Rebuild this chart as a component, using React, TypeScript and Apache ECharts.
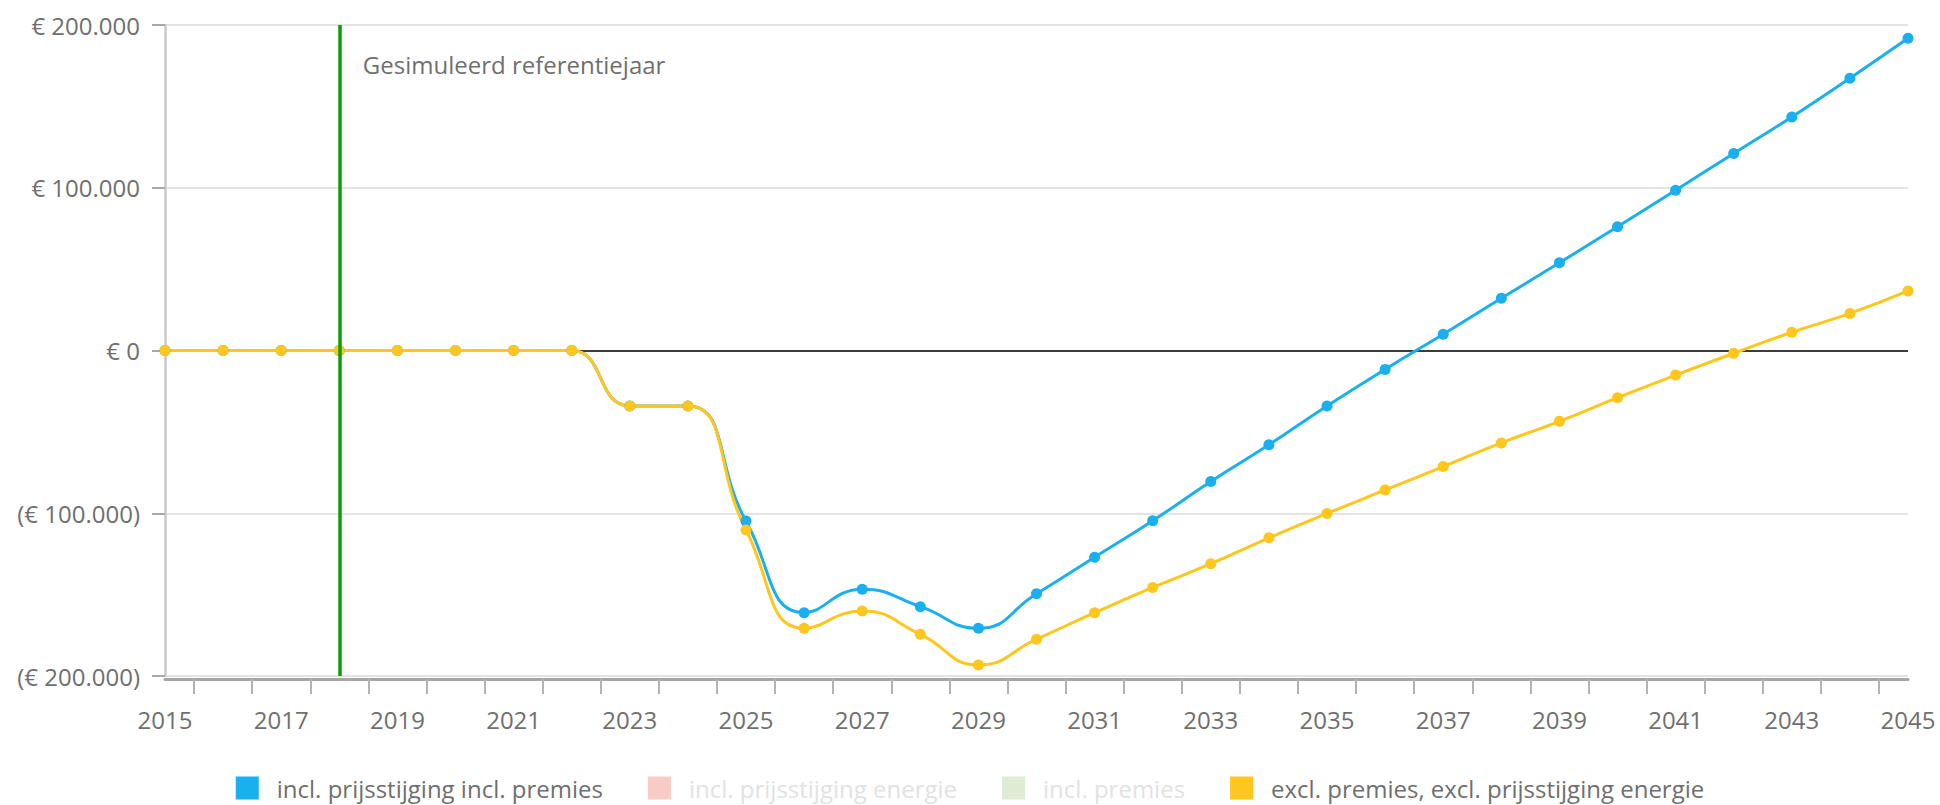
import React, { useEffect, useRef } from "react";
import * as echarts from "echarts";

const years: number[] = [
  2015, 2016, 2017, 2018, 2019, 2020, 2021, 2022, 2023, 2024, 2025, 2026, 2027, 2028, 2029, 2030,
  2031, 2032, 2033, 2034, 2035, 2036, 2037, 2038, 2039, 2040, 2041, 2042, 2043, 2044, 2045,
];

const inclPrijsInclPremies: number[] = [
  0, 0, 0, 0, 0, 0, 0, 0, -34100, -34100, -104800, -161100, -146700, -157400, -170700, -149500,
  -127000, -104600, -80500, -57900, -34100, -11600, 10000, 32100, 53900, 76100, 98500, 121100,
  143500, 167300, 191800,
];

const exclPremiesExclPrijs: number[] = [
  0, 0, 0, 0, 0, 0, 0, 0, -34100, -34100, -110300, -170700, -160100, -174400, -193200, -177400,
  -161100, -145600, -131000, -115100, -100100, -85700, -71300, -56800, -43500, -29000, -15100,
  -1700, 11200, 22800, 36600,
];

const inclPrijsEnergie: number[] = [];
const inclPremies: number[] = [];

const seriesNames: string[] = [
  "incl. prijsstijging incl. premies",
  "incl. prijsstijging energie",
  "incl. premies",
  "excl. premies, excl. prijsstijging energie",
];

const xLabelYears: number[] = [
  2015, 2017, 2019, 2021, 2023, 2025, 2027, 2029, 2031, 2033, 2035, 2037, 2039, 2041, 2043, 2045,
];
const xTickYears: number[] = [
  2015.5, 2016.5, 2017.5, 2018.5, 2019.5, 2020.5, 2021.5, 2022.5, 2023.5, 2024.5, 2025.5, 2026.5,
  2027.5, 2028.5, 2029.5, 2030.5, 2031.5, 2032.5, 2033.5, 2034.5, 2035.5, 2036.5, 2037.5, 2038.5,
  2039.5, 2040.5, 2041.5, 2042.5, 2043.5, 2044.5,
];
const yTicks: number[] = [-200000, -100000, 0, 100000, 200000];

const referenceYear = 2018;
const referenceLabel = "Gesimuleerd referentiejaar";

const FONT = "'Open Sans', 'Noto Sans', sans-serif";
const TEXT = "#6f6f6f";

function fmtEuro(v: number): string {
  if (v === 0) return "€ 0";
  const s = Math.abs(v)
    .toFixed(0)
    .replace(/\B(?=(\d{3})+(?!\d))/g, ".");
  return v < 0 ? "(€ " + s + ")" : "€ " + s;
}

function pairs(vals: number[]): number[][] {
  return vals.map((v, i) => [years[i], v]);
}

export default function App() {
  const ref = useRef<HTMLDivElement>(null);

  useEffect(() => {
    if (!ref.current) return;
    const chart = echarts.init(ref.current, null, { renderer: "svg" });
    const lineSeries = (name: string, color: string, data: number[], extra: any = {}) => ({
      name,
      type: "line",
      data: pairs(data),
      smooth: true,
      symbol: "circle",
      symbolSize: 11,
      showSymbol: true,
      itemStyle: { color },
      lineStyle: { color, width: 3 },
      emphasis: { disabled: true },
      ...extra,
    });
    chart.setOption({
      animation: false,
      backgroundColor: "#ffffff",
      grid: { left: 165, right: 32, top: 25, bottom: 129, containLabel: false },
      xAxis: {
        type: "value",
        min: years[0],
        max: years[years.length - 1],
        offset: 3,
        axisLine: { show: true, onZero: false, lineStyle: { color: "#a6a6a6", width: 3 } },
        axisTick: {
          show: true,
          customValues: xTickYears,
          length: 15,
          lineStyle: { color: "#b3b3b3", width: 2 },
        },
        axisLabel: {
          customValues: xLabelYears,
          formatter: (v: number) => String(v),
          fontFamily: FONT,
          fontSize: 24,
          color: TEXT,
          margin: 28,
        },
        splitLine: { show: false },
      },
      yAxis: {
        type: "value",
        min: yTicks[0],
        max: yTicks[yTicks.length - 1],
        interval: yTicks[1] - yTicks[0],
        axisLine: { show: true, lineStyle: { color: "#c8c8c8", width: 2.5 } },
        axisTick: { show: true, length: 13, lineStyle: { color: "#a8a8a8", width: 2 } },
        axisLabel: {
          formatter: (v: number) => fmtEuro(v),
          fontFamily: FONT,
          fontSize: 24,
          color: TEXT,
          margin: 25,
        },
        splitLine: {
          show: true,
          lineStyle: {
            color: ["#e4e4e4", "#e4e4e4", "#3c3c3c", "#e4e4e4", "#e4e4e4"],
            width: 2,
          },
        },
      },
      legend: {
        top: 771,
        left: "center",
        icon: "rect",
        itemWidth: 23,
        itemHeight: 23,
        itemGap: 45,
        selectedMode: false,
        textStyle: { fontFamily: FONT, fontSize: 24, color: TEXT, padding: [0, 0, 0, 13] },
        data: [
          { name: seriesNames[0] },
          { name: seriesNames[1], itemStyle: { color: "#f8cbc7" }, textStyle: { color: "#e2e2e2" } },
          { name: seriesNames[2], itemStyle: { color: "#deecd3" }, textStyle: { color: "#e2e2e2" } },
          { name: seriesNames[3] },
        ],
      },
      series: [
        lineSeries(seriesNames[0], "#1ab0f0", inclPrijsInclPremies),
        lineSeries(seriesNames[1], "#f8cbc7", inclPrijsEnergie),
        lineSeries(seriesNames[2], "#deecd3", inclPremies),
        lineSeries(seriesNames[3], "#ffc61e", exclPremiesExclPrijs, {
          markLine: {
            silent: true,
            symbol: ["none", "none"],
            label: { show: false },
            lineStyle: { color: "#0a9e0a", width: 3.5, type: "solid" },
            data: [{ xAxis: referenceYear }],
          },
          markPoint: {
            silent: true,
            symbol: "circle",
            symbolSize: 1,
            itemStyle: { color: "rgba(0,0,0,0)" },
            data: [{ coord: [referenceYear, yTicks[yTicks.length - 1]] }],
            label: {
              show: true,
              position: "right",
              distance: 23,
              offset: [0, 39],
              formatter: referenceLabel,
              fontFamily: FONT,
              fontSize: 24,
              color: TEXT,
            },
          },
        }),
      ],
    });
    return () => chart.dispose();
  }, []);

  return (
    <div
      ref={ref}
      style={{ position: "fixed", left: 0, top: 0, width: 1940, height: 805, background: "#fff" }}
    />
  );
}
